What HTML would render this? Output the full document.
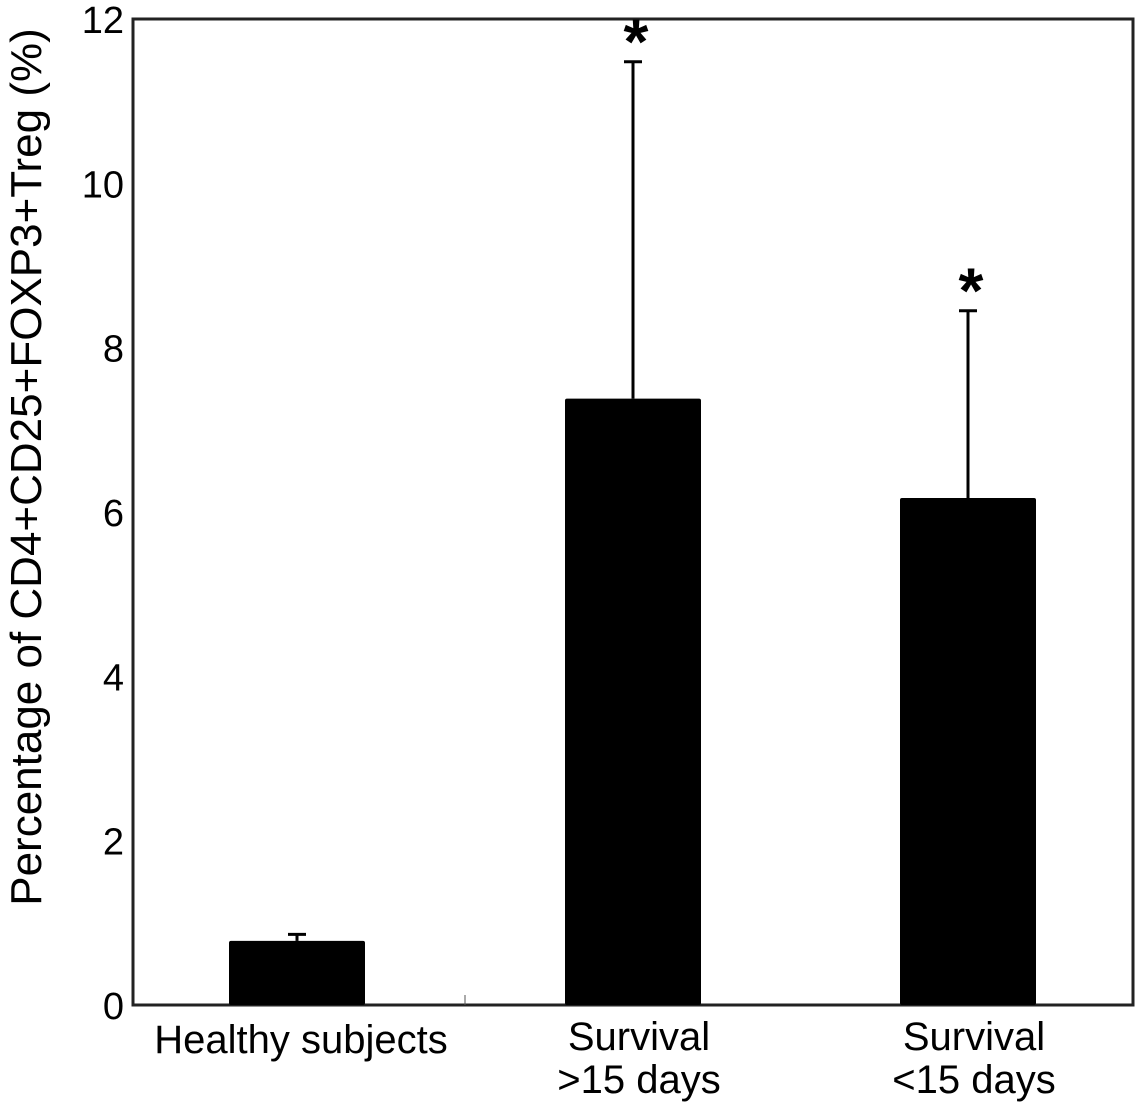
<!DOCTYPE html>
<html><head><meta charset="utf-8"><style>
body{margin:0;background:#fff;}
svg text{font-family:"Liberation Sans",Arial,sans-serif;fill:#000;}
</style></head><body>
<svg width="1143" height="1114" viewBox="0 0 1143 1114">
<g id="g"></g>
</svg>
<script>
const categories=[["Healthy subjects"],["Survival",">15 days"],["Survival","<15 days"]];
const values=[0.78,7.38,6.17];
const errors=[0.08,4.1,2.28];
const significant=[false,true,true];
const yTicks=[0,2,4,6,8,10,12];
const L=133,R=1133,T=19,B=1005;
const y=v=>B-(v/12)*(B-T);
const centers=[297,633,968];
const bw=136;
const g=document.getElementById('g');
const NS='http://www.w3.org/2000/svg';
function mk(t,a){const e=document.createElementNS(NS,t);for(const k in a)e.setAttribute(k,a[k]);g.appendChild(e);return e;}
let fr=mk('rect',{x:L,y:T,width:R-L,height:B-T,fill:'none',stroke:'#222','stroke-width':3});


let tk=mk('line',{x1:465,x2:465,y1:B,y2:B-10,stroke:'#555','stroke-width':1});


yTicks.forEach(v=>{
  const t=mk('text',{x:124,y:y(v)+14,'text-anchor':'end','font-size':38});
  t.textContent=v;
  
  
});
values.forEach((v,i)=>{
  const c=centers[i];
  const b=mk('rect',{x:c-bw/2,y:y(v),width:bw,height:B-y(v),fill:'#000',rx:2});
  
  
  const et=y(v+errors[i]);
  const e=mk('line',{x1:c,x2:c,y1:y(v),y2:et,stroke:'#000','stroke-width':3});
  
  
  const cap=mk('line',{x1:c-9,x2:c+9,y1:et,y2:et,stroke:'#000','stroke-width':3});
  
  
  if(significant[i]){
    const s=mk('text',{x:c+3,y:et+2,'text-anchor':'middle','font-size':64,'font-weight':'bold'});
    s.textContent='*';
    
    
  }
  categories[i].forEach((ln,j)=>{
    const t=mk('text',{x:c+(i==0?4:6),y:(i==0?1053:1050)+j*43,'text-anchor':'middle','font-size':40});
    t.textContent=ln;
    
    
  });
});
const yt=mk('text',{x:0,y:0,'text-anchor':'middle','font-size':44,transform:'translate(41,467) rotate(-90)'});
yt.textContent='Percentage of CD4+CD25+FOXP3+Treg (%)';


</script>
</body></html>
